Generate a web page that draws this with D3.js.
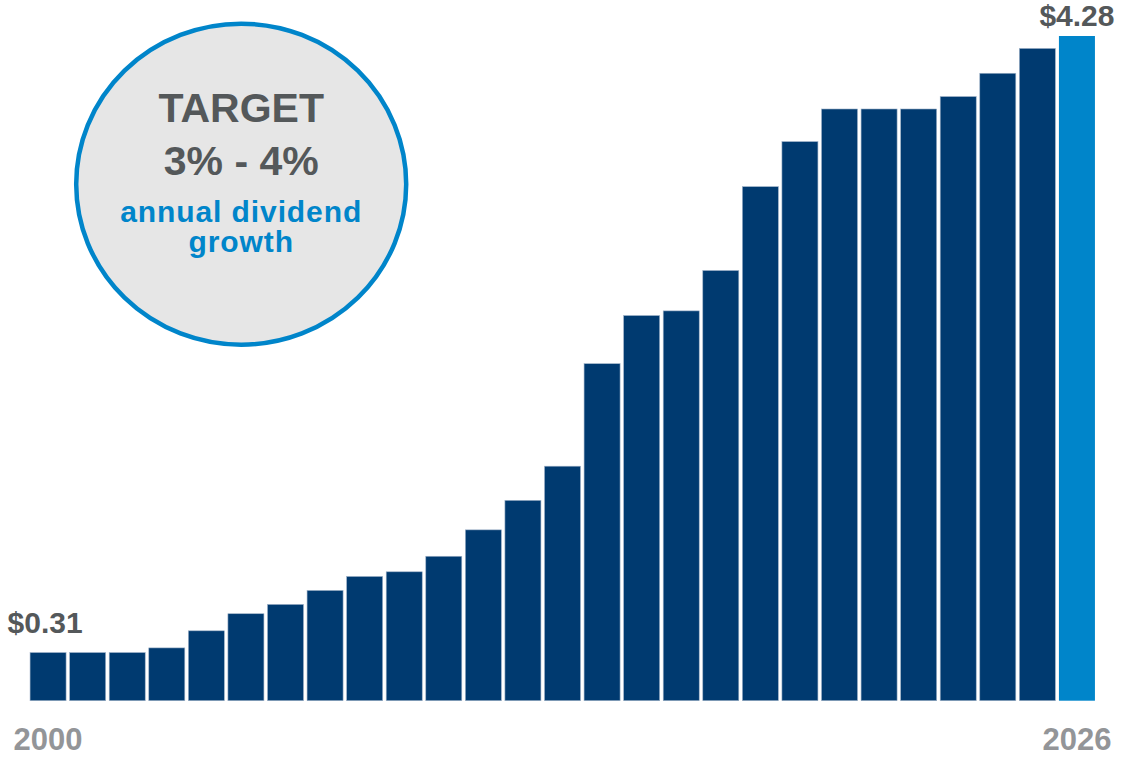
<!DOCTYPE html>
<html>
<head>
<meta charset="utf-8">
<script src="https://cdn.jsdelivr.net/npm/d3@7"></script>
<style>
  html, body { margin: 0; padding: 0; background: #fff; }
  text { font-family: "Liberation Sans", Arial, sans-serif; font-weight: bold; }
</style>
</head>
<body>
<svg id="chart" width="1127" height="757"></svg>
<script>
// annual dividend per share, 2000 - 2026
const years = d3.range(2000, 2027);
const dividends = [
  0.31, 0.31, 0.31, 0.34, 0.45, 0.56, 0.62, 0.71, 0.80, 0.83,
  0.93, 1.10, 1.29, 1.51, 2.17, 2.48, 2.51, 2.77, 3.31, 3.60,
  3.81, 3.81, 3.81, 3.89, 4.04, 4.20, 4.28
];
const tickYears = [2000, 2026];
const targetLines = ['TARGET', '3% - 4%'];
const growthLines = ['annual dividend', 'growth'];

const svg = d3.select('#chart');

const navy = '#003a70';
const blue = '#0085ca';
const darkGrey = '#54585a';
const lightGrey = '#939598';

const data = years.map((year, i) => ({year, value: dividends[i]}));

const x = d3.scaleBand()
  .domain(years)
  .range([26.5, 1098.5])
  .paddingInner(0.09)
  .paddingOuter(0.09);

const y = d3.scaleLinear()
  .domain([0, 4.28])
  .range([700.7, 36]);

svg.append('g')
  .selectAll('rect')
  .data(data)
  .join('rect')
  .attr('x', (d) => x(d.year))
  .attr('y', (d) => y(d.value))
  .attr('width', x.bandwidth())
  .attr('height', (d) => y(0) - y(d.value))
  .attr('fill', (d) => d.year === 2026 ? blue : navy)
  .attr('stroke', (d) => d.year === 2026 ? 'none' : '#9fb2c8')
  .attr('stroke-width', 0.6);

// first / last value labels
const first = data[0];
const last = data[data.length - 1];

svg.append('text')
  .attr('x', x(first.year) + x.bandwidth() / 2 - 3)
  .attr('y', y(first.value) - 20)
  .attr('text-anchor', 'middle')
  .attr('font-size', 30)
  .attr('fill', darkGrey)
  .text(`$${first.value.toFixed(2)}`);

svg.append('text')
  .attr('x', x(last.year) + x.bandwidth() / 2)
  .attr('y', y(last.value) - 10)
  .attr('text-anchor', 'middle')
  .attr('font-size', 30)
  .attr('fill', darkGrey)
  .text(`$${last.value.toFixed(2)}`);

// year axis
const xAxis = svg.append('g')
  .attr('transform', `translate(0,${y(0)})`)
  .call(d3.axisBottom(x).tickValues(tickYears).tickSize(0).tickPadding(27));

xAxis.select('.domain').remove();
xAxis.selectAll('text')
  .attr('font-size', 31)
  .attr('font-family', '"Liberation Sans", Arial, sans-serif')
  .attr('font-weight', 'bold')
  .attr('fill', lightGrey);

// target badge
const badge = svg.append('g')
  .attr('transform', 'translate(241.2,184.2)');

badge.append('ellipse')
  .attr('rx', 165)
  .attr('ry', 160.5)
  .attr('fill', '#e6e6e6')
  .attr('stroke', blue)
  .attr('stroke-width', 4.5);

badge.selectAll('.target')
  .data(targetLines)
  .join('text')
  .attr('class', 'target')
  .attr('y', (d, i) => -62.5 + i * 53.5)
  .attr('text-anchor', 'middle')
  .attr('font-size', 41)
  .attr('fill', darkGrey)
  .text((d) => d);

badge.selectAll('.growth')
  .data(growthLines)
  .join('text')
  .attr('class', 'growth')
  .attr('y', (d, i) => 37.5 + i * 30.5)
  .attr('text-anchor', 'middle')
  .attr('font-size', 30)
  .attr('letter-spacing', 0.9)
  .attr('fill', blue)
  .text((d) => d);
</script>
</body>
</html>
